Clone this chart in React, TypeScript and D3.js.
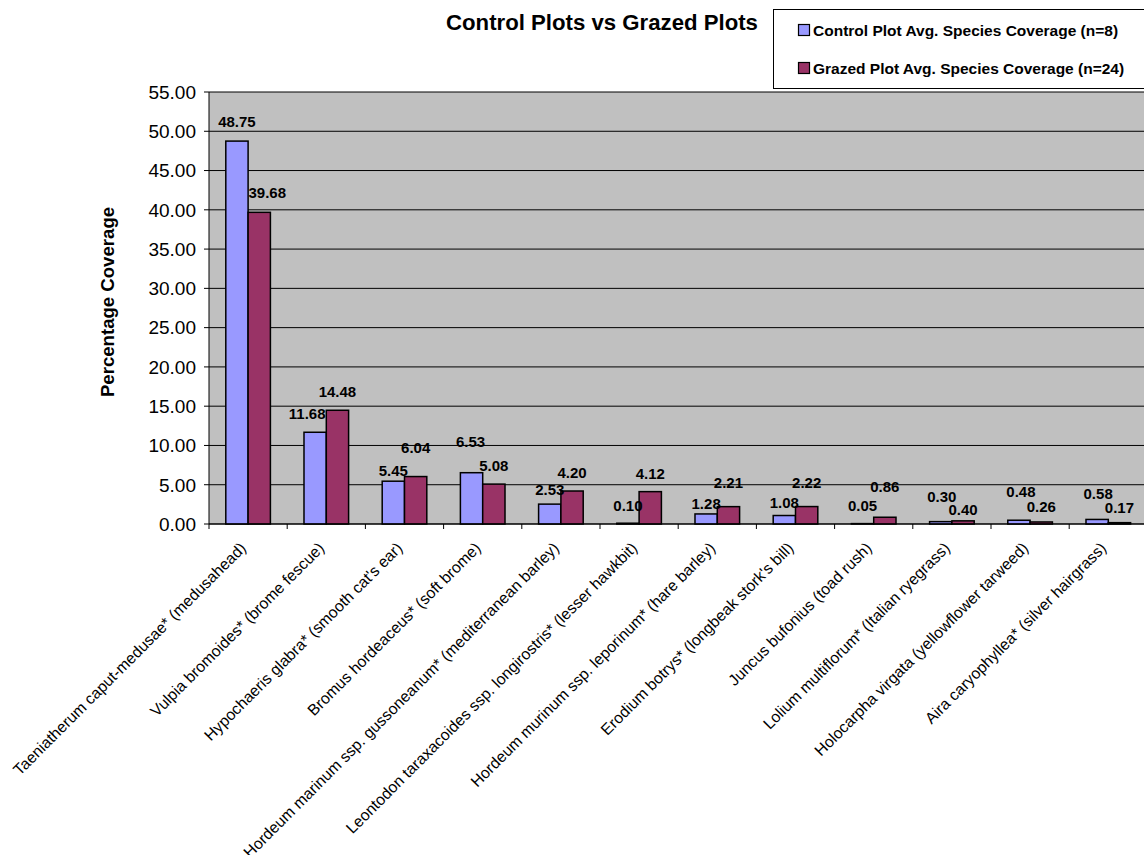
import React from "react";
import * as d3 from "d3";

// Species (category axis)
const species = [
  "Taeniatherum caput-medusae* (medusahead)",
  "Vulpia bromoides* (brome fescue)",
  "Hypochaeris glabra* (smooth cat's ear)",
  "Bromus hordeaceus* (soft brome)",
  "Hordeum marinum ssp. gussoneanum* (mediterranean barley)",
  "Leontodon taraxacoides ssp. longirostris* (lesser hawkbit)",
  "Hordeum murinum ssp. leporinum* (hare barley)",
  "Erodium botrys* (longbeak stork's bill)",
  "Juncus bufonius (toad rush)",
  "Lolium multiflorum* (Italian ryegrass)",
  "Holocarpha virgata (yellowflower tarweed)",
  "Aira caryophyllea* (silver hairgrass)",
];

// Average percentage coverage per species
const controlValues = [48.75, 11.68, 5.45, 6.53, 2.53, 0.1, 1.28, 1.08, 0.05, 0.3, 0.48, 0.58];
const grazedValues = [39.68, 14.48, 6.04, 5.08, 4.2, 4.12, 2.21, 2.22, 0.86, 0.4, 0.26, 0.17];

const seriesNames = [
  "Control Plot Avg. Species Coverage (n=8)",
  "Grazed Plot Avg. Species Coverage (n=24)",
];
const seriesColors = ["#9999ff", "#993366"];

const yTicks = [0, 5, 10, 15, 20, 25, 30, 35, 40, 45, 50, 55];

// Hand-placed nudges for the value labels (px, relative to bar centre / bar top)
const controlLabelDx = [0, -8, 0, -1, 0, 0, 0, 0, 0, 1, 2, 1];
const controlLabelDy = [-14, -13, -5, -26, -9, -12, -5, -8, -13, -20, -23, -20];
const grazedLabelDx = [8, 0, 0, 0, 0, 0, 0, 0, 0, 0, 0, 0];
const grazedLabelDy = [-14, -13, -24, -13, -13, -13, -19, -19, -25, -6, -10, -10];

const W = 1144;
const H = 855;
const plotLeft = 209;
const plotTop = 92;
const plotBottom = 524;
const catStep = 78.2;
const plotRight = plotLeft + catStep * species.length;

const FONT = "'Liberation Sans', Arial, Helvetica, sans-serif";

export default function App() {
  const x0 = d3
    .scaleBand<string>()
    .domain(species)
    .range([plotLeft, plotRight])
    .padding(0);
  const x1 = d3
    .scaleBand<string>()
    .domain(seriesNames)
    .range([0, x0.bandwidth()])
    .paddingInner(0)
    .paddingOuter(0.753);
  const y = d3.scaleLinear().domain([0, 55]).range([plotBottom, plotTop]);

  const series = [
    { name: seriesNames[0], values: controlValues, dx: controlLabelDx, dy: controlLabelDy, color: seriesColors[0] },
    { name: seriesNames[1], values: grazedValues, dx: grazedLabelDx, dy: grazedLabelDy, color: seriesColors[1] },
  ];

  const fmt = d3.format(".2f");

  return (
    <svg
      width={W}
      height={H}
      style={{ position: "absolute", left: 0, top: 0, background: "#fff" }}
      fontFamily={FONT}
    >
      {/* plot area */}
      <rect x={plotLeft} y={plotTop} width={plotRight - plotLeft} height={plotBottom - plotTop} fill="#c0c0c0" />
      {yTicks.map((t) => (
        <line key={"g" + t} x1={plotLeft} x2={plotRight} y1={y(t)} y2={y(t)} stroke="#000" strokeWidth={1} />
      ))}

      {/* bars */}
      {series.map((s) =>
        species.map((sp, i) => (
          <rect
            key={s.name + i}
            x={(x0(sp) as number) + (x1(s.name) as number)}
            y={y(s.values[i])}
            width={x1.bandwidth()}
            height={plotBottom - y(s.values[i])}
            fill={s.color}
            stroke="#000"
            strokeWidth={1.5}
          />
        ))
      )}

      {/* axes */}
      <line x1={plotLeft} x2={plotLeft} y1={plotTop} y2={plotBottom} stroke="#000" strokeWidth={1} />
      <line x1={plotLeft} x2={plotRight} y1={plotBottom} y2={plotBottom} stroke="#000" strokeWidth={1} />
      {yTicks.map((t) => (
        <g key={"yt" + t}>
          <line x1={plotLeft - 5} x2={plotLeft} y1={y(t)} y2={y(t)} stroke="#000" />
          <text x={plotLeft - 13} y={y(t)} dy="0.36em" textAnchor="end" fontSize={19} fill="#000">
            {fmt(t)}
          </text>
        </g>
      ))}
      {d3.range(species.length + 1).map((k) => (
        <line
          key={"xt" + k}
          x1={plotLeft + k * x0.step()}
          x2={plotLeft + k * x0.step()}
          y1={plotBottom}
          y2={plotBottom + 5}
          stroke="#000"
        />
      ))}

      {/* value labels */}
      {series.map((s) =>
        species.map((sp, i) => {
          const cx = (x0(sp) as number) + (x1(s.name) as number) + x1.bandwidth() / 2;
          return (
            <text
              key={"v" + s.name + i}
              x={cx + s.dx[i]}
              y={y(s.values[i]) + s.dy[i]}
              textAnchor="middle"
              fontSize={15}
              fontWeight="bold"
              fill="#000"
            >
              {fmt(s.values[i])}
            </text>
          );
        })
      )}

      {/* category labels */}
      {species.map((sp) => {
        const cx = (x0(sp) as number) + x0.bandwidth() / 2;
        return (
          <text
            key={"c" + sp}
            transform={`translate(${cx - 1},${plotBottom + 25}) rotate(-45)`}
            textAnchor="end"
            fontSize={15.8}
            fill="#000"
          >
            {sp}
          </text>
        );
      })}

      {/* y axis title */}
      <text
        transform={`translate(${107},${302}) rotate(-90)`}
        textAnchor="middle"
        dy="0.35em"
        fontSize={18.6}
        fontWeight="bold"
        fill="#000"
      >
        Percentage Coverage
      </text>

      {/* chart title */}
      <text x={602} y={30} textAnchor="middle" fontSize={22.2} fontWeight="bold" fill="#000">
        Control Plots vs Grazed Plots
      </text>

      {/* legend */}
      <rect x={773.5} y={9.5} width={400} height={79} fill="#fff" stroke="#000" strokeWidth={1} />
      {series.map((s, i) => (
        <g key={"l" + i} transform={`translate(798,${24 + i * 38})`}>
          <rect x={0.5} y={0.5} width={11} height={11} fill={s.color} stroke="#000" strokeWidth={1.2} />
          <text x={15} y={11.5} fontSize={15.5} fontWeight="bold" fill="#000">
            {s.name}
          </text>
        </g>
      ))}
    </svg>
  );
}
